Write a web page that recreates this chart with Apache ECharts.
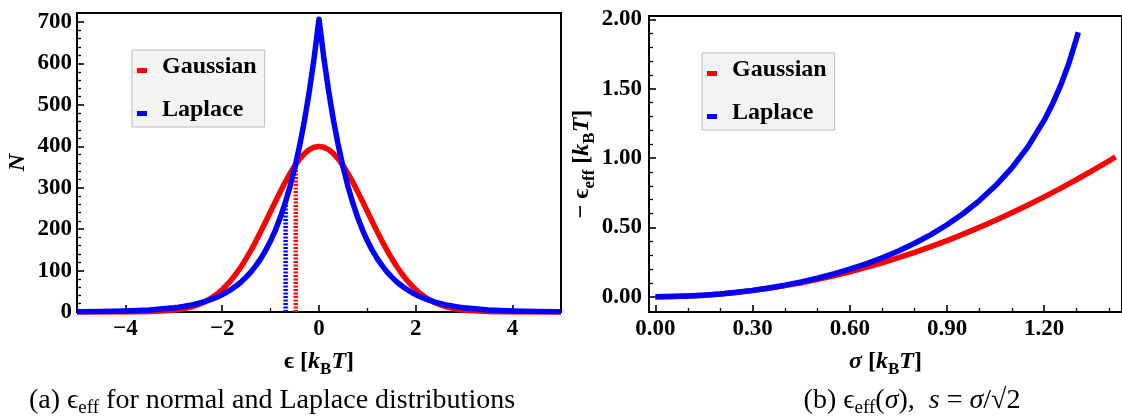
<!DOCTYPE html>
<html><head><meta charset="utf-8">
<script src="https://cdn.jsdelivr.net/npm/echarts@6/dist/echarts.min.js"></script>
<style>html,body{margin:0;padding:0;background:#fff}#c{width:1122px;height:418px}</style>
</head><body><div id="c"></div>
<script>
// ---------- data ----------
const epsX = [-5,-4.5,-4,-3.5,-3,-2.9,-2.8,-2.7,-2.6,-2.5,-2.4,-2.3,-2.2,-2.1,-2,-1.9,-1.8,-1.7,-1.6,-1.5,-1.4,-1.3,-1.2,-1.1,-1,-0.9,-0.8,-0.7,-0.6,-0.5,-0.4,-0.3,-0.2,-0.1,0,
  0.1,0.2,0.3,0.4,0.5,0.6,0.7,0.8,0.9,1,1.1,1.2,1.3,1.4,1.5,1.6,1.7,1.8,1.9,2,2.1,2.2,2.3,2.4,2.5,2.6,2.7,2.8,2.9,3,3.5,4,4.5,5];
const gaussN = [0,0,0.1,0.9,4.4,6.0,7.9,10.5,13.6,17.6,22.4,28.4,35.6,44.1,54.1,65.8,79.2,94.3,111.2,129.9,150.1,171.8,194.7,218.4,242.6,266.8,290.5,313.1,334.1,353.0,369.2,382.4,392.1,398.0,400,
  398.0,392.1,382.4,369.2,353.0,334.1,313.1,290.5,266.8,242.6,218.4,194.7,171.8,150.1,129.9,111.2,94.3,79.2,65.8,54.1,44.1,35.6,28.4,22.4,17.6,13.6,10.5,7.9,6.0,4.4,0.9,0.1,0,0];
const laplaceN = [0.6,1.2,2.5,5.0,10.2,11.7,13.5,15.5,17.9,20.6,23.7,27.3,31.5,36.3,41.8,48.2,55.5,63.9,73.6,84.8,97.6,112.5,129.5,149.2,171.9,198.0,228.1,262.7,302.6,348.6,401.6,462.5,532.8,613.8,707,
  613.8,532.8,462.5,401.6,348.6,302.6,262.7,228.1,198.0,171.9,149.2,129.5,112.5,97.6,84.8,73.6,63.9,55.5,48.2,41.8,36.3,31.5,27.3,23.7,20.6,17.9,15.5,13.5,11.7,10.2,5.0,2.5,1.2,0.6];
const gaussMarkX = [-0.48, -0.48];
const gaussMarkN = [0, 350];
const laplaceMarkX = [-0.69, -0.69];
const laplaceMarkN = [0, 262];

const sigmaG = [0,0.05,0.1,0.15,0.2,0.25,0.3,0.35,0.4,0.45,0.5,0.55,0.6,0.65,0.7,0.75,0.8,0.85,0.9,0.95,1,1.05,1.1,1.15,1.2,1.25,1.3,1.35,1.4,1.42];
const effG = [0,0.00125,0.005,0.01125,0.02,0.03125,0.045,0.06125,0.08,0.10125,0.125,0.15125,0.18,0.21125,0.245,0.28125,0.32,0.36125,0.405,0.45125,0.5,0.55125,0.605,0.66125,0.72,0.78125,0.845,0.91125,0.98,1.0082];
const sigmaL = [0,0.05,0.1,0.15,0.2,0.25,0.3,0.35,0.4,0.45,0.5,0.55,0.6,0.65,0.7,0.75,0.8,0.85,0.9,0.95,1,1.05,1.1,1.15,1.2,1.225,1.25,1.275,1.3,1.305];
const effL = [0,0.00125,0.00501,0.01131,0.0202,0.03175,0.04604,0.06321,0.08338,0.10675,0.13353,0.16399,0.19845,0.23731,0.28104,0.33024,0.38566,0.44824,0.51919,0.6001,0.69315,0.8013,0.92887,1.0825,1.27297,1.38754,1.51983,1.67565,1.86433,1.907];

// tick labels / tick positions
const xTicksA = [-4,-2,0,2,4];
const xMinorA = [-5,-3,-1,1,3,5];
const yTicksA = [0,100,200,300,400,500,600,700];
const yMinorA = [20,40,60,80,120,140,160,180,220,240,260,280,320,340,360,380,420,440,460,480,520,540,560,580,620,640,660,680];
const xTicksB = [0,0.3,0.6,0.9,1.2];
const xMinorB = [0.1,0.2,0.4,0.5,0.7,0.8,1.0,1.1,1.3,1.4];
const yTicksB = [0,0.5,1,1.5,2];
const yMinorB = [0.1,0.2,0.3,0.4,0.6,0.7,0.8,0.9,1.1,1.2,1.3,1.4,1.6,1.7,1.8,1.9];

const legendNames = ['Gaussian', 'Laplace'];
const captionA = '(a) ϵ{s|eff} for normal and Laplace distributions';
const captionB = '(b) ϵ{s|eff}({i|σ}),  {i|s} = {i|σ}/√2';

// ---------- chart ----------
const FF = "'Liberation Serif','Times New Roman',serif";
const RED = '#ff0000', BLUE = '#0000ff';
const zip = (a, b) => a.map((v, i) => [v, b[i]]);
const minus = v => (v < 0 ? '\u2212' + Math.abs(v) : String(v));

const nameRich = {
  n: {fontFamily: FF, fontSize: 24, fontWeight: 'bold', lineHeight: 32},
  i: {fontFamily: FF, fontSize: 24, fontWeight: 'bold', fontStyle: 'italic', lineHeight: 32},
  sub: {fontFamily: FF, fontSize: 17, fontWeight: 'bold', verticalAlign: 'bottom', lineHeight: 16}
};
const nameStyle = {fontFamily: FF, fontSize: 24, fontWeight: 'bold', color: '#000', lineHeight: 32, rich: nameRich};
const labelStyle = {fontFamily: FF, fontSize: 23, fontWeight: 'bold', color: '#000'};

function mainAxis(o) {
  return Object.assign({
    type: 'value', splitLine: {show: false},
    axisLine: {show: true, onZero: false, lineStyle: {color: '#000', width: 2}},
    nameLocation: 'middle', nameTextStyle: nameStyle
  }, o);
}
function minorAxis(o) {
  return Object.assign({
    type: 'value', splitLine: {show: false},
    axisLine: {show: false, onZero: false},
    axisLabel: {show: false}
  }, o);
}
function majorTick(vals) {
  return {show: true, inside: true, length: 7, customValues: vals, lineStyle: {color: '#000', width: 1.6}};
}
function minorTick(vals) {
  return {show: true, inside: true, length: 4, customValues: vals, lineStyle: {color: '#000', width: 1.3}};
}
function legendFor(left, top) {
  return {
    data: legendNames, orient: 'vertical', left: left, top: top,
    icon: 'path://M0,0M0,8L10,8L10,13L0,13Z', itemWidth: 10, itemHeight: 13, itemGap: 18,
    backgroundColor: '#f4f4f4', borderColor: '#bdbdbd', borderWidth: 1, borderRadius: 0,
    padding: [4, 8, 5, 5], selectedMode: false,
    textStyle: {fontFamily: FF, fontSize: 24, fontWeight: 'bold', color: '#000', lineHeight: 25, padding: [0, 0, 0, 10]}
  };
}

const option = {
  animation: false,
  backgroundColor: '#fff',
  grid: [
    {left: 77, top: 13, width: 484, height: 299, show: true, borderColor: '#000', borderWidth: 2, backgroundColor: 'transparent'},
    {left: 649, top: 16, width: 477, height: 296, show: true, borderColor: '#000', borderWidth: 2, backgroundColor: 'transparent'}
  ],
  legend: [legendFor(132, 50), legendFor(702, 53)],
  xAxis: [
    mainAxis({gridIndex: 0, position: 'bottom', min: -5, max: 5, axisTick: majorTick(xTicksA),
      axisLabel: Object.assign({margin: 6, customValues: xTicksA, formatter: minus}, labelStyle),
      name: '{n|ϵ [}{i|k}{sub|B}{i|T}{n|]}', nameGap: 31}),
    minorAxis({gridIndex: 0, position: 'bottom', min: -5, max: 5, axisTick: minorTick(xMinorA)}),
    mainAxis({gridIndex: 1, position: 'bottom', min: -0.02, max: 1.44, axisTick: majorTick(xTicksB),
      axisLabel: Object.assign({margin: 6, customValues: xTicksB, formatter: v => v.toFixed(2)}, labelStyle),
      name: '{i|σ}{n| [}{i|k}{sub|B}{i|T}{n|]}', nameGap: 31}),
    minorAxis({gridIndex: 1, position: 'bottom', min: -0.02, max: 1.44, axisTick: minorTick(xMinorB)})
  ],
  yAxis: [
    mainAxis({gridIndex: 0, position: 'left', min: 0, max: 722, axisTick: majorTick(yTicksA),
      axisLabel: Object.assign({margin: 5, customValues: yTicksA}, labelStyle),
      name: '{i|N}', nameGap: 39}),
    minorAxis({gridIndex: 0, position: 'left', min: 0, max: 722, axisTick: minorTick(yMinorA)}),
    mainAxis({gridIndex: 1, position: 'left', min: -0.11, max: 2.024, axisTick: majorTick(yTicksB),
      axisLabel: Object.assign({margin: 7, customValues: yTicksB, formatter: v => v.toFixed(2)}, labelStyle),
      name: '{n|− ϵ}{sub|eff}{n| [}{i|k}{sub|B}{i|T}{n|]}', nameGap: 38}),
    minorAxis({gridIndex: 1, position: 'left', min: -0.11, max: 2.024, axisTick: minorTick(yMinorB)})
  ],
  series: [
    {name: 'GaussMark', type: 'line', xAxisIndex: 0, yAxisIndex: 0, data: zip(gaussMarkX, gaussMarkN), showSymbol: false, silent: true,
      lineStyle: {color: RED, width: 4.5, type: [2, 1.5]}, z: 3},
    {name: 'LaplaceMark', type: 'line', xAxisIndex: 0, yAxisIndex: 0, data: zip(laplaceMarkX, laplaceMarkN), showSymbol: false, silent: true,
      lineStyle: {color: BLUE, width: 4.5, type: [2, 1.5]}, z: 3},
    {name: 'Gaussian', type: 'line', xAxisIndex: 0, yAxisIndex: 0, data: zip(epsX, gaussN), showSymbol: false, color: RED,
      lineStyle: {color: RED, width: 5.5, join: 'round'}, z: 4},
    {name: 'Laplace', type: 'line', xAxisIndex: 0, yAxisIndex: 0, data: zip(epsX, laplaceN), showSymbol: false, color: BLUE,
      lineStyle: {color: BLUE, width: 5.5, join: 'round'}, z: 5},
    {name: 'Gaussian', type: 'line', xAxisIndex: 2, yAxisIndex: 2, data: zip(sigmaG, effG), showSymbol: false, color: RED,
      lineStyle: {color: RED, width: 5.5, join: 'round'}, z: 4},
    {name: 'Laplace', type: 'line', xAxisIndex: 2, yAxisIndex: 2, data: zip(sigmaL, effL), showSymbol: false, color: BLUE,
      lineStyle: {color: BLUE, width: 5.5, join: 'round'}, z: 5}
  ],
  graphic: [
    {type: 'text', x: 272, y: 401, style: {text: captionA, fontFamily: FF, fontSize: 28, fill: '#000', align: 'center', verticalAlign: 'middle', lineHeight: 34,
      rich: {s: {fontFamily: FF, fontSize: 19, verticalAlign: 'bottom', lineHeight: 17}}}},
    {type: 'text', x: 912, y: 401, style: {text: captionB, fontFamily: FF, fontSize: 28, fill: '#000', align: 'center', verticalAlign: 'middle', lineHeight: 34,
      rich: {s: {fontFamily: FF, fontSize: 19, verticalAlign: 'bottom', lineHeight: 17}, i: {fontFamily: FF, fontSize: 28, fontStyle: 'italic', lineHeight: 34}}}}
  ]
};
const chart = echarts.init(document.getElementById('c'), null, {renderer: 'canvas'});
chart.setOption(option);
</script></body></html>
